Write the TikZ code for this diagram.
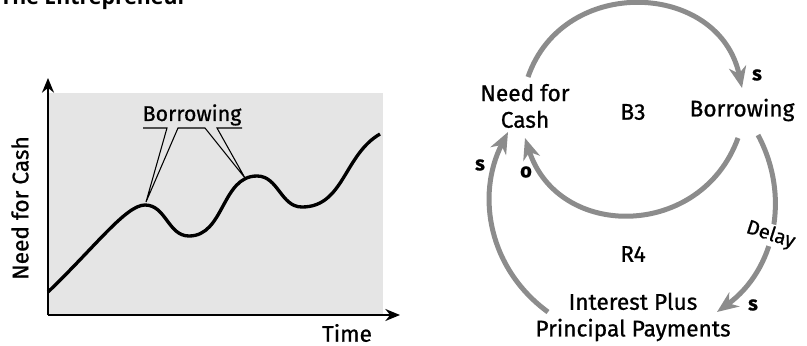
\documentclass[tikz,border=0pt]{standalone}
\usepackage{fontspec}
\setmainfont{Fira Sans}[FakeBold=0.8]
\newfontfamily\titlefont{Open Sans}
\usetikzlibrary{arrows.meta, calc}

\begin{document}
\begin{tikzpicture}[x=0.75pt, y=0.75pt,
        every node/.style={font=\fontsize{17}{20}\selectfont, inner sep=2pt},
        var/.style={align=center},
        pol/.style={font=\fontsize{15}{15}\selectfont\bfseries},
        link/.style={draw=black!45, line width=3.75pt, -{Stealth[length=16pt, width=13pt, inset=5pt]}},
        axis/.style={line width=1.5pt, -{Stealth[length=11pt, width=9pt]}},
        lead/.style={line width=0.8pt}
    ]
        \useasboundingbox (0,0) rectangle (807,-346);
        % title, cut off by the page
        \node[anchor=base west, font=\titlefont\bfseries\fontsize{16}{16}\selectfont] (title) at (-3,-5) {The Entrepreneur};

        % graph
        \fill[black!10] (48,-93) rectangle (383,-315);
        \draw[axis] (48,-315) -- (48,-78);
        \draw[axis] (48,-315) -- (400,-315);
        \draw[line width=2.5pt, line join=round] (48,-292) .. controls (95,-247) and (126,-205) .. (145,-205)
            to[out=0,in=180] (189,-236) to[out=0,in=180] (257,-176)
            to[out=0,in=180] (302,-207) to[out=0,in=210] (380,-134);
        \coordinate (pk1) at (146,-202);
        \coordinate (pk2) at (245,-178);
        \node[anchor=base, font=\fontsize{16}{16}\selectfont] (lbl) at (192,-121) {Borrowing};
        \draw[lead] (143,-128) -- (167,-128) -- (pk1) -- (178,-128) -- (205,-128) -- (pk2) -- (217,-128) -- (242,-128);
        \node[rotate=90] (ylab) at (20,-208) {Need for Cash};
        \node (xlab) at (347,-333) {Time};

        % loops
        \node[var] (cash)   at (525,-106) {Need for\\Cash};
        \node[var] (borrow) at (742,-110) {Borrowing};
        \node[var] (pay)    at (633,-317) {Interest Plus\\Principal Payments};
        \node (b3) at (633,-112) {B3};
        \node (r4) at (633,-254) {R4};
        \draw[link] ($(cash)+(3,29)$) to[out=71,in=102,looseness=1.3] ($(borrow)+(0,22)$);
        \draw[link] ($(borrow)+(-4,-28)$) to[out=-110,in=-72,looseness=1.3] ($(cash)+(0,-32)$);
        \draw[link] ($(borrow)+(16,-25)$) to[out=-62,in=36]
            node[pos=0.52, fill=white, inner sep=1pt, rotate=-18, font=\fontsize{15}{15}\selectfont] (delay) {Delay} ($(pay)+(84,5)$);
        \draw[link] ($(pay)+(-85,5)$) to[out=144,in=-117] ($(cash)+(-17,-26)$);
        \node[pol] (s1) at (757,-75)  {s};
        \node[pol] (s2) at (480,-165) {s};
        \node[pol] (o1) at (526,-172) {o};
        \node[pol] (s3) at (753,-305) {s};
\end{tikzpicture}
\end{document}
